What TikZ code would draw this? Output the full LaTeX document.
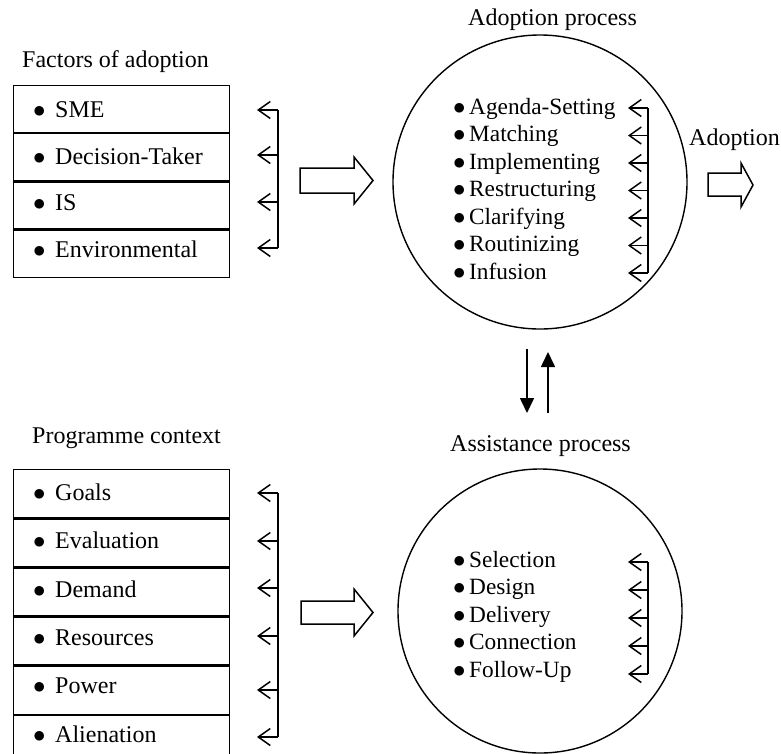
\documentclass[tikz,border=0pt]{standalone}
\usepackage{fontspec}
\setmainfont{Liberation Serif}
\usetikzlibrary{arrows.meta}
\newcommand{\bx}{\makebox[22pt][l]{$\bullet$}}
\newcommand{\bc}{\makebox[16pt][l]{$\bullet$}}
\tikzset{
  ln/.style={line width=1.4pt},
  rowbox/.style={draw, line width=1.4pt, minimum width=216pt, inner sep=0pt, anchor=north west},
  txt/.style={inner sep=0pt, anchor=base west, font=\fontsize{24}{28}\selectfont},
  itm/.style={inner sep=0pt, anchor=base west, font=\fontsize{23.3}{28}\selectfont},
  fb/.style={line width=1.5pt, -{Straight Barb[length=12pt,width=17pt]}},
  vline/.style={line width=1.4pt},
  flow/.style={line width=1.6pt, -{Triangle[length=15pt,width=14pt]}},
  proc/.style={draw, circle, line width=1.4pt, inner sep=0pt},
  hollow/.style={draw, line width=1.5pt, line join=miter}
}
\begin{document}
\begin{tikzpicture}[x=1pt,y=-1pt]
\useasboundingbox (0,0) rectangle (781,753);
\clip (0,0) rectangle (781,753);

% ---------- Factors of adoption ----------
\node[txt] (tf) at (22,67) {Factors of adoption};
\node[rowbox, minimum height=47pt] (f1) at (13,84.5) {};
\node[rowbox, minimum height=47pt] (f2) at (f1.south west) {};
\node[rowbox, minimum height=47pt] (f3) at (f2.south west) {};
\node[rowbox, minimum height=47pt] (f4) at (f3.south west) {};
\node[txt] (f1t) at (33,117) {\bx SME};
\node[txt] (f2t) at (33,164) {\bx Decision-Taker};
\node[txt] (f3t) at (33,210.5) {\bx IS};
\node[txt] (f4t) at (33,257) {\bx Environmental};

\coordinate (fv1) at (278,110);
\coordinate (fv2) at (278,155);
\coordinate (fv3) at (278,202);
\coordinate (fv4) at (278,248);
\coordinate (fa1) at (257,110);
\coordinate (fa2) at (257,155);
\coordinate (fa3) at (257,202);
\coordinate (fa4) at (257,248);
\draw[vline] (fv1) -- (fv4);
\foreach \i in {1,...,4} \draw[fb] (fv\i) -- (fa\i);

% big hollow arrow (top)
\draw[hollow] (300,168) -- (354,168) -- (354,157) -- (373,180.5) -- (354,204) -- (354,193) -- (300,193) -- cycle;

% ---------- Adoption process ----------
\node[txt] (ta) at (468,25) {Adoption process};
\node[proc, minimum size=294pt] (adopt) at (540,182) {};
\node[itm] (a1) at (453,114) {\bc Agenda-Setting};
\node[itm] (a2) at (453,141.5) {\bc Matching};
\node[itm] (a3) at (453,169) {\bc Implementing};
\node[itm] (a4) at (453,196.5) {\bc Restructuring};
\node[itm] (a5) at (453,224) {\bc Clarifying};
\node[itm] (a6) at (453,251.5) {\bc Routinizing};
\node[itm] (a7) at (453,279) {\bc Infusion};
\foreach \i/\y in {1/108,2/135.5,3/163,4/190.5,5/218,6/245.5,7/273} {
  \coordinate (av\i) at (648,\y);
  \coordinate (aa\i) at (628,\y);
}
\draw[vline] (av1) -- (av7);
\foreach \i in {1,...,7} \draw[fb] (av\i) -- (aa\i);

% output
\node[txt] (tout) at (689,145) {Adoption};
\draw[hollow] (708,173) -- (741,173) -- (741,163) -- (753,185) -- (741,207) -- (741,196) -- (708,196) -- cycle;

% ---------- vertical arrows ----------
\coordinate (d1) at (527,349);
\coordinate (d2) at (527,413);
\coordinate (u1) at (548,413);
\coordinate (u2) at (548,352);
\draw[flow] (d1) -- (d2);
\draw[flow] (u1) -- (u2);

% ---------- Programme context ----------
\node[txt] (tp) at (32,443) {Programme context};
\node[rowbox, minimum height=47.8pt] (p1) at (13,469) {};
\node[rowbox, minimum height=47.8pt] (p2) at (p1.south west) {};
\node[rowbox, minimum height=47.8pt] (p3) at (p2.south west) {};
\node[rowbox, minimum height=47.8pt] (p4) at (p3.south west) {};
\node[rowbox, minimum height=47.8pt] (p5) at (p4.south west) {};
\node[rowbox, minimum height=47.8pt] (p6) at (p5.south west) {};
\node[txt] (p1t) at (33,500) {\bx Goals};
\node[txt] (p2t) at (33,548) {\bx Evaluation};
\node[txt] (p3t) at (33,597) {\bx Demand};
\node[txt] (p4t) at (33,645) {\bx Resources};
\node[txt] (p5t) at (33,693) {\bx Power};
\node[txt] (p6t) at (33,742) {\bx Alienation};
\foreach \i/\y in {1/493,2/541,3/588,4/636,5/690,6/737} {
  \coordinate (pv\i) at (278,\y);
  \coordinate (pa\i) at (257,\y);
}
\draw[vline] (pv1) -- (pv6);
\foreach \i in {1,...,6} \draw[fb] (pv\i) -- (pa\i);

% big hollow arrow (bottom)
\draw[hollow] (301,601) -- (354,601) -- (354,589) -- (373,612.5) -- (354,636) -- (354,624) -- (301,624) -- cycle;

% ---------- Assistance process ----------
\node[txt] (ts) at (450,451) {Assistance process};
\node[proc, minimum size=284pt] (assist) at (540,611) {};
\node[itm] (s1) at (453,567) {\bc Selection};
\node[itm] (s2) at (453,594.5) {\bc Design};
\node[itm] (s3) at (453,622) {\bc Delivery};
\node[itm] (s4) at (453,649.5) {\bc Connection};
\node[itm] (s5) at (453,677) {\bc Follow-Up};
\foreach \i/\y in {1/562,2/590,3/618,4/646,5/674} {
  \coordinate (sv\i) at (648,\y);
  \coordinate (sa\i) at (628,\y);
}
\draw[vline] (sv1) -- (sv5);
\foreach \i in {1,...,5} \draw[fb] (sv\i) -- (sa\i);
\end{tikzpicture}
\end{document}
